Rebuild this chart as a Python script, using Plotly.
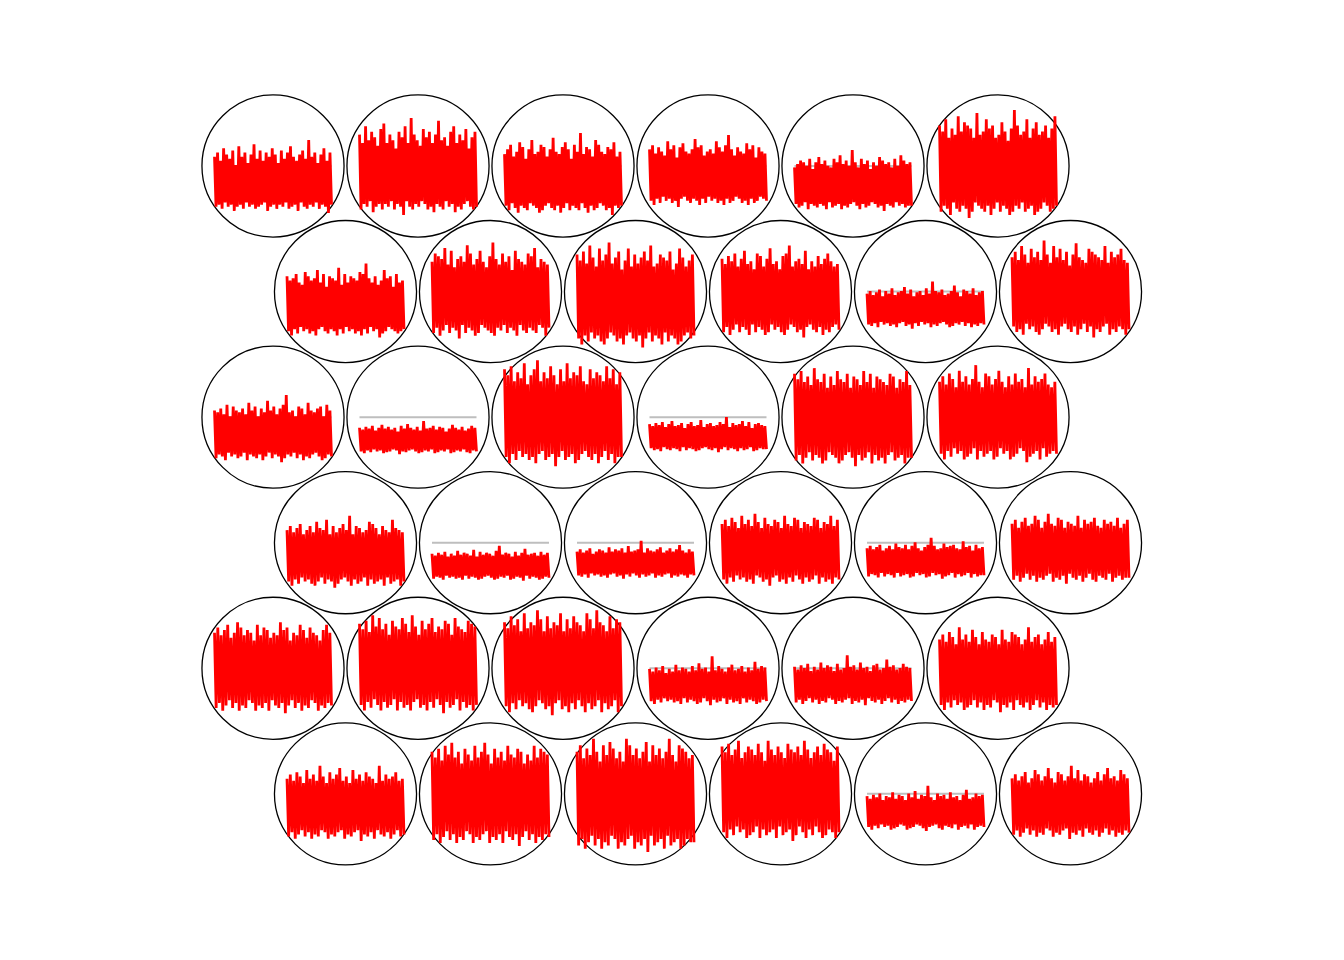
import math
import plotly.graph_objects as go

# ---- data -------------------------------------------------------------
grid_cols = 6
grid_rows = 6

# codebook vectors, one string per unit (top row first, left to right);
# each character is a level 0..35 between the unit's min and max value
code_levels = [
    "r3t4p2v5s3q4u1n3w4r2t5o3s4x2q3u4p5t1r3v4s2o4u3q5t2w3r4p1s5u3q2z4r3t5o2s4v3p0t4",
    "t2q4w3r5u1s3p4v2x4q3t5r2o4u3s0w5q3z2t4r3p5v4s2u3q1t4y3r2s5p3u4w1q3t2r4v5o3s2u3",
    "q4s2u5p3r1v4t3o2s5w4q3r1u2t4p5s3x2r4q1t3v5s2o4u3r2z5q3t1s4p2w3u5r4q2t3s0v4p3r4",
    "s3u1q4t2r5p3w4s2u3o0t4v5r3q2s4x3t1u4p2r5s3q4w2t3r1u4z2s3p5t4r2q3v1s4u2o3t5r4q3",
    "p4r2t3s5q1u4o3s2v4r3t1q5p2u3s4w1r3t2q4z5s3p1u4r2t3o5s4q2v3t0r4s3p2u5q3w4t2r3s3",
    "u2s4w3q1t5r3x2s4v3u0t2q5y4r3s2w4t1u3q5r2v4s3p1t2z4u3r5s2w3q4t1v2r3s5u4q2t3x4",
    "t3r1s4u2q5p3v4t2r3s1w4q5u3o2t4s3r1x4p2u5q3t4s2r3v1u4z2s5q3t4p0r2w3s5t4o3u2q3r4",
    "s2v4u1t3x5r2w4q3t0u5s2y4v3r1t2w5s4q3u2z1t4r3v5s2u4p3w1t5s3r2v4u3x2q5t4s1r4",
    "v3t1w4s2y5u3r4x2t1v3z5s4u2w3q1t4x5r3v2s4u0w3t5y2r4s3v1u5t2w4q3s1x2u4r5t3v4",
    "u2s4v1t3w5r2u4x3s1t5q2w4v3r1u2y5s3t4q2v1w3z5r4t2u3s0x4q5t3r2v4s1u3w2t4r5s3",
    "q3s2p4r1t5o3s4q2u3p1r4s5v2q3t0o4r2s5p3u4q1z3s2r4t5p3q1s2w4r3o5t2s4q1u3p2r4s3",
    "t4v2s3x1u5r3w4t2v1s3z5u4r2x3t1w4s5v3q2u4y1t3s5r2w4v0u3t2s4x5r1v3t2u4w3s1r3",
    "r2q4s3p1u5o3t4r2q3s5p1v4r3t2o4s1q3w5r2t4p3s0u2z4q3r5o2t4s1p3v2r4q5s3t1o2u4r3",
    "s3q1t4r2u5p3s4v1r2t3q5s4o0u3r2w4s5q3t1p2z4r3s5u1q2t4s3o5r1v2s4q3t5p2r1u4s3",
    "w3u1x4s2v5t3y4r2u3w1z4s5v2t3x4u0r3w5s2y3t4v1u2x4s5r3w2t4v1u3s5x2t4w1r3v3",
    "s4q2t3r1u5p3s2v4q3r1t5o2s4u3q1r2w4p5s3t2q4r0u3s5z2p4t3r1s4v2q3u5o1s2t4r3q3",
    "x2v4y1u3w5t2z4v3u1x2s5w4t3y1v2u4x5s3w0v4t2y3u5x1s4w2v3u1t4x5w2s3v4u1y3t3",
    "t3v1s4w2u5r3x4t1v2s3u5z1t4r2w3v4s1u2x5t3r4v1s2w3t5u4r0y2s3v4t1u5w2s3r4t3",
    "s3u1r4t2v5q3s4u2r1w3t5s2x4q3u0r2t4v5s3z1q4u2t3r5s1w4v2t3q4u1s5r2x3t4s1r3",
    "r2p4s3q1t5o3r4p2u3q1s5r2p4v3o1t2q4s5r3p1u2z4q3s5r1o2t4p3s0w5q2r4s3p1t2q4s3",
    "p3r2o4q1s5n3p4r2q3o1t4p5r2q3s0o4u2p5q3r1z4o2s3q5p1r3t2o4q5s1p3r2v4q3o1r4p3",
    "u3w1t4x2v5s3y4u2w3t1z5v4s2x3u0t4w5v2s3y1u4t2x5w3s1v4u2t3x5w1s4v2u3y1t4w3",
    "q2s4p3r1t5o2q4s3p1u5r2q3t4p1s2v5q3o4r1t2z5s3p4q0u2r3s5t1q4p2w3r5s1o4t2q3r3",
    "u2w4s1v3x5t2u4y1w3s2v4z5u1t3x2w4s0v5u3t2y4s1w3u5v2x1t4s3w2u5v1t3x4s2u3w3",
    "v2x4u1w3y5t2v4z1x3u2w5v4s1y3u2x4w1t5v3u2z4w0x3s5v2u4y1w3t2x5v4u1s3w2y4v3",
    "w3u1x4t2z5v3y1u4w2s3x5v1u4y2w3t1z4v5s2x3u1w4y2t5v3u0x4w2s3y5v1u4t2x3w1v3",
    "v3t1x4u2w5s3y4t2v1u3z5w4s2x3t0v4u5y2s3w1t4x2v5u3s1y4w2t3z5v1u4s2x3t5w1v3",
    "q3o1r4p2s5n3q4o2t3p1r5q2o4s3p1u2q5r3o0z4p2s3q5o1r4t2p3q1s5o2r4p3v1q2s4r3",
    "r2p4s1q3t5o2r4p1u3q2s5r4o1t3p2q4z5r1s3p2u4q0r5o3s2t4p1q3w5r2s4p1q3t2r4q3",
    "u3w1t4x2v5s3z4u1w2t3y5v2s4x1u3t2w5v4s0y3u2t4x1w5v3s2u4z1t3v5w2s4u1x3t2v3",
    "t2v4s1w3u5r2x4t1v3s2z5u4r1w3t2v4y5s1u3r2x4t5v0s3w2u4t1r5z3s2v4t1u3w5s2t3",
    "w2u4x1t3y5v2z4u1w3s2x5v4t1y3u2w4z5v1s3x2u4w1t5y3v2u4x0w3s5v2t4y1u3x2w4v3",
    "v2x4t1w3u5z2v4s1x3u2y5w4t1v3s2z4x5u1w3t2v4y0s5x2u3w4t1v5z2u3s4x1w2v4t3u3",
    "x3v1y4u2w5z3t4v1x2w3u5y1v4s2z3w4u1x5v2t3y4w0v2x5u3z1w4t2v5x3u1y2w4v3s1x3",
    "r3p1s4q2t5o3r4q1u2p3s5r4o1t2q3v5p4s2r0z3q4o5t2r1s4p3u2q5r1o3s4w2p5q1t3r4s3",
    "t2v4s1u3w5r2t4x1v3s2u5y4t1r3w2v4s5u0z3t2x4s1v5u3r2t4w1s3v5y2t4u1s3x2v4t3",
]

# value range of each unit (same order as code_levels)
unit_min = [
    -47, -49, -49, -41, -45, -52,
    -46, -47, -56, -46, -37, -46,
    -45, -37, -49, -35, -49, -45,
    -45, -38, -36, -43, -36, -41,
    -45, -45, -47, -37, -37, -44,
    -47, -52, -58, -47, -37, -45,
]
unit_max = [
    26, 48, 33, 31, 16, 56,
    28, 49, 49, 46, 10, 51,
    22, -4, 57, 0, 49, 52,
    27, -3, 2, 29, 5, 29,
    46, 53, 58, 12, 13, 41,
    28, 51, 55, 53, 8, 28,
]

# ---- rendering --------------------------------------------------------
ALPH = "0123456789abcdefghijklmnopqrstuvwxyz"
VSCALE = 1.0 / 145.0      # grid units per code value
HALF_W = 0.4034           # half width of the line box inside a unit
RADIUS = 0.49

circ_shapes = []
gx, gy = [], []
rx, ry = [], []

for k, s in enumerate(code_levels):
    vr = k // grid_cols            # visual row, 0 = top
    c = k % grid_cols
    grow = grid_rows - vr          # kohonen grid row, 1 = bottom
    cx = (c + 1) + 0.5 * (grow % 2)
    cy = grow * math.sqrt(3) / 2
    circ_shapes.append(dict(type="circle", xref="x", yref="y",
                            x0=cx - RADIUS, x1=cx + RADIUS,
                            y0=cy - RADIUS, y1=cy + RADIUS,
                            line=dict(color="black", width=1.3),
                            layer="below"))
    gx += [cx - HALF_W, cx + HALF_W, None]
    gy += [cy, cy, None]
    lo, hi = unit_min[k], unit_max[k]
    n = len(s)
    for i, ch in enumerate(s):
        v = lo + (hi - lo) * ALPH.index(ch) / 35.0
        rx.append(cx - HALF_W + 2 * HALF_W * i / (n - 1))
        ry.append(cy + v * VSCALE)
    rx.append(None)
    ry.append(None)

fig = go.Figure()
fig.add_trace(go.Scatter(x=gx, y=gy, mode="lines",
                         line=dict(color="#BEBEBE", width=2),
                         hoverinfo="skip", showlegend=False))
fig.add_trace(go.Scatter(x=rx, y=ry, mode="lines",
                         line=dict(color="#FF0000", width=2.8),
                         hoverinfo="skip", showlegend=False))

fig.update_layout(
    width=1344, height=960,
    margin=dict(l=0, r=0, t=0, b=0),
    paper_bgcolor="white", plot_bgcolor="white",
    shapes=circ_shapes,
    xaxis=dict(range=[-128 / 145, (1344 - 128) / 145], visible=False,
               showgrid=False, zeroline=False, fixedrange=True),
    yaxis=dict(range=[6 * math.sqrt(3) / 2 - 794 / 145,
                      6 * math.sqrt(3) / 2 + 166 / 145],
               visible=False, showgrid=False, zeroline=False, fixedrange=True),
)

fig.write_html("out.html")
